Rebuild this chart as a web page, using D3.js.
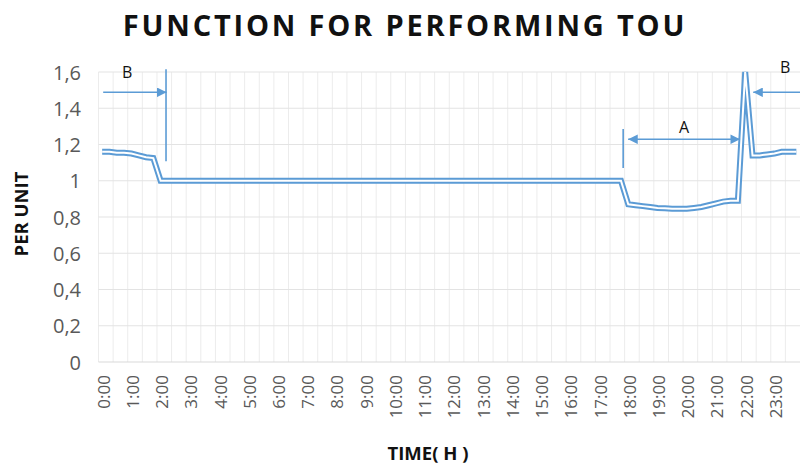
<!DOCTYPE html>
<html>
<head>
<meta charset="utf-8">
<script src="https://cdn.jsdelivr.net/npm/d3@7"></script>
<style>
  html, body { margin: 0; padding: 0; background: #fff; }
  svg { display: block; }
</style>
</head>
<body>
<svg id="chart" width="800" height="468"></svg>
<script>
// ---- data (15-minute samples, 0:00 .. 23:45) ----
const times = [];
for (let h = 0; h < 24; h++) for (const m of ["00", "15", "30", "45"]) times.push(h + ":" + m);

const perUnit = [
  1.16, 1.16, 1.155, 1.155, 1.15, 1.14, 1.13, 1.125,           // 0:00 - 1:45
  1.0, 1.0, 1.0, 1.0, 1.0, 1.0, 1.0, 1.0,                     // 2:00 - 3:45
  1.0, 1.0, 1.0, 1.0, 1.0, 1.0, 1.0, 1.0,                     // 4:00 - 5:45
  1.0, 1.0, 1.0, 1.0, 1.0, 1.0, 1.0, 1.0,                     // 6:00 - 7:45
  1.0, 1.0, 1.0, 1.0, 1.0, 1.0, 1.0, 1.0,                     // 8:00 - 9:45
  1.0, 1.0, 1.0, 1.0, 1.0, 1.0, 1.0, 1.0,                     // 10:00 - 11:45
  1.0, 1.0, 1.0, 1.0, 1.0, 1.0, 1.0, 1.0,                     // 12:00 - 13:45
  1.0, 1.0, 1.0, 1.0, 1.0, 1.0, 1.0, 1.0,                     // 14:00 - 15:45
  1.0, 1.0, 1.0, 1.0, 1.0, 1.0, 1.0, 1.0,                     // 16:00 - 17:45
  0.87, 0.865, 0.86, 0.855, 0.85, 0.848, 0.845, 0.845,        // 18:00 - 19:45
  0.845, 0.85, 0.855, 0.865, 0.875, 0.885, 0.89, 0.89,        // 20:00 - 21:45
  1.6, 1.14, 1.14, 1.145, 1.15, 1.16, 1.16, 1.16              // 22:00 - 23:45
];

const yTicks = [0, 0.2, 0.4, 0.6, 0.8, 1.0, 1.2, 1.4, 1.6];
const xTickLabels = times.filter(t => t.endsWith(":00"));

// annotations (x in hours, y in per-unit)
const arrowsOneWay = [
  { x1: 0.16, x2: 2.33, y: 1.488 },   // B (left)
  { x1: 24.0, x2: 22.4, y: 1.488 }    // B (right)
];
const arrowsTwoWay = [ { x1: 18.12, x2: 21.95, y: 1.229 } ];  // A
const markerLines = [
  { x: 2.31, y1: 1.615, y2: 1.108 },
  { x: 17.95, y1: 1.285, y2: 1.07 }
];
const annoLabels = [
  { text: "B", x: 0.98, y: 1.60 },
  { text: "A", x: 20.03, y: 1.297 },
  { text: "B", x: 23.49, y: 1.63 }
];

// ---- layout ----
const svg = d3.select("#chart");
const plotL = 98.5, plotR = 800, plotT = 72, plotB = 362;
const blue = "#5b9bd5";
const grey = "#595959";
const gridCol = "#e3e3e3";

const x = d3.scaleBand().domain(times).range([plotL, plotR]).padding(0);
const xh = d3.scaleLinear().domain([0, 24]).range([plotL, plotR]);
const y = d3.scaleLinear().domain([0, 1.6]).range([plotB, plotT]);

// vertical gridlines every 30 minutes
const vgrid = times.filter((t, i) => i % 2 === 0);
svg.append("g").selectAll("line").data(vgrid).join("line")
  .attr("x1", d => x(d)).attr("x2", d => x(d))
  .attr("y1", plotT).attr("y2", plotB)
  .attr("stroke", "#ececec").attr("stroke-width", 1);

// horizontal gridlines
svg.append("g").selectAll("line").data(yTicks).join("line")
  .attr("x1", plotL).attr("x2", plotR)
  .attr("y1", d => y(d)).attr("y2", d => y(d))
  .attr("stroke", d => d === 0 ? "#d9d9d9" : gridCol).attr("stroke-width", 1);

// y tick labels
svg.append("g").selectAll("text").data(yTicks).join("text")
  .attr("x", 81).attr("y", d => y(d))
  .attr("text-anchor", "end").attr("dominant-baseline", "central")
  .attr("font-family", "Open Sans, sans-serif").attr("font-size", 20)
  .attr("fill", grey)
  .text(d => d === 0 ? "0" : d3.format(".1f")(d).replace(".", ",").replace(/,0$/, ""));

// x tick labels (rotated)
svg.append("g").selectAll("text").data(xTickLabels).join("text")
  .attr("transform", d => `translate(${x(d) + x.bandwidth() / 2 + 1},375) rotate(-90)`)
  .attr("text-anchor", "end").attr("dominant-baseline", "central")
  .attr("font-family", "Open Sans, sans-serif").attr("font-size", 17)
  .attr("fill", grey)
  .text(d => d);

// double line
const line = d3.line()
  .x((d, i) => x(times[i]) + x.bandwidth() / 2)
  .y(d => y(d));
svg.append("path").datum(perUnit).attr("d", line)
  .attr("fill", "none").attr("stroke", blue).attr("stroke-width", 6)
  .attr("stroke-linejoin", "miter").attr("stroke-miterlimit", 10);
svg.append("path").datum(perUnit).attr("d", line)
  .attr("fill", "none").attr("stroke", "#fff").attr("stroke-width", 2)
  .attr("stroke-linejoin", "miter").attr("stroke-miterlimit", 10);

// arrowheads
const defs = svg.append("defs");
defs.append("marker").attr("id", "head").attr("viewBox", "0 0 10 10")
  .attr("refX", 10).attr("refY", 5).attr("markerWidth", 7).attr("markerHeight", 6)
  .attr("markerUnits", "strokeWidth").attr("orient", "auto-start-reverse")
  .append("path").attr("d", "M0,0 L10,5 L0,10 Z").attr("fill", blue);

const anno = svg.append("g");
anno.selectAll("line.one").data(arrowsOneWay).join("line").attr("class", "one")
  .attr("x1", d => xh(d.x1)).attr("x2", d => xh(d.x2))
  .attr("y1", d => y(d.y)).attr("y2", d => y(d.y))
  .attr("stroke", blue).attr("stroke-width", 1.6)
  .attr("marker-end", "url(#head)");
anno.selectAll("line.two").data(arrowsTwoWay).join("line").attr("class", "two")
  .attr("x1", d => xh(d.x1)).attr("x2", d => xh(d.x2))
  .attr("y1", d => y(d.y)).attr("y2", d => y(d.y))
  .attr("stroke", blue).attr("stroke-width", 1.6)
  .attr("marker-start", "url(#head)").attr("marker-end", "url(#head)");
anno.selectAll("line.mark").data(markerLines).join("line").attr("class", "mark")
  .attr("x1", d => xh(d.x)).attr("x2", d => xh(d.x))
  .attr("y1", d => y(d.y1)).attr("y2", d => y(d.y2))
  .attr("stroke", blue).attr("stroke-width", 1.6);
anno.selectAll("text").data(annoLabels).join("text")
  .attr("x", d => xh(d.x)).attr("y", d => y(d.y))
  .attr("text-anchor", "middle").attr("dominant-baseline", "central")
  .attr("font-family", "Open Sans, sans-serif").attr("font-size", 16)
  .attr("fill", "#111")
  .text(d => d.text);

// titles
svg.append("text").attr("x", 405).attr("y", 24)
  .attr("text-anchor", "middle").attr("dominant-baseline", "central")
  .attr("font-family", "Open Sans, sans-serif").attr("font-weight", 700)
  .attr("font-size", 29).attr("letter-spacing", 2.8).attr("fill", "#111")
  .text("FUNCTION FOR PERFORMING TOU");

svg.append("text")
  .attr("transform", "translate(20,214) rotate(-90)")
  .attr("text-anchor", "middle").attr("dominant-baseline", "central")
  .attr("font-family", "Open Sans, sans-serif").attr("font-weight", 700)
  .attr("font-size", 18.5).attr("fill", "#111")
  .text("PER UNIT");

svg.append("text").attr("x", 428).attr("y", 452)
  .attr("text-anchor", "middle").attr("dominant-baseline", "central")
  .attr("font-family", "Open Sans, sans-serif").attr("font-weight", 700)
  .attr("font-size", 18.5).attr("fill", "#111")
  .text("TIME( H )");
</script>
</body>
</html>
